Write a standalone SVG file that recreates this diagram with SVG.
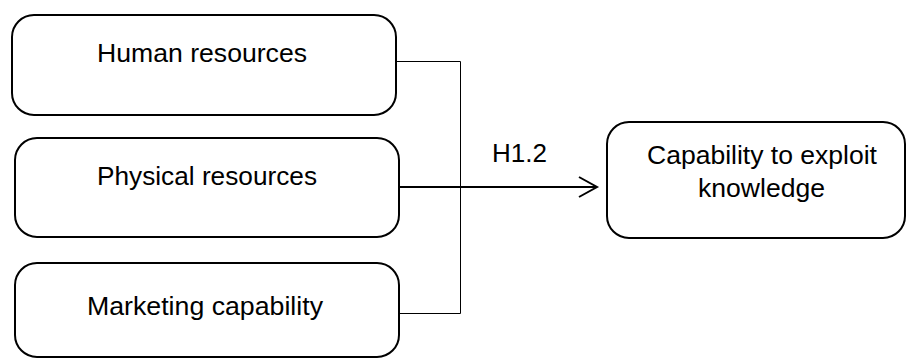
<svg xmlns="http://www.w3.org/2000/svg" width="906" height="358" viewBox="0 0 906 358">
<style>
.box{fill:#fff;stroke:#000;stroke-width:2}
.t{font-family:"Liberation Sans",Arial,sans-serif;font-size:26px;fill:#000}
.thin{fill:none;stroke:#000;stroke-width:1}
.thick{fill:none;stroke:#000;stroke-width:2}
</style>
<rect width="906" height="358" fill="#fff"/>
<g id="connectors">
<polyline class="thin" points="397,61.5 460.5,61.5 460.5,313.5 400,313.5"/>
<line class="thick" x1="400" y1="187" x2="596" y2="187"/>
<polyline class="thick" points="579,177 597,187 579,197"/>
<text class="t" x="492" y="162" textLength="55" lengthAdjust="spacingAndGlyphs">H1.2</text>
</g>
<g id="human">
<rect class="box" x="12" y="15" width="384" height="100" rx="22" ry="22"/>
<text class="t" x="97" y="62" textLength="210" lengthAdjust="spacingAndGlyphs">Human resources</text>
</g>
<g id="physical">
<rect class="box" x="15" y="138" width="384" height="99" rx="22" ry="22"/>
<text class="t" x="97" y="185" textLength="220" lengthAdjust="spacingAndGlyphs">Physical resources</text>
</g>
<g id="marketing">
<rect class="box" x="15" y="263" width="384" height="94" rx="22" ry="22"/>
<text class="t" x="87" y="315" textLength="236" lengthAdjust="spacingAndGlyphs">Marketing capability</text>
</g>
<g id="capability">
<rect class="box" x="607" y="122" width="298" height="116" rx="22" ry="22"/>
<text class="t" x="647" y="164" textLength="230" lengthAdjust="spacingAndGlyphs">Capability to exploit</text>
<text class="t" x="698" y="197" textLength="127" lengthAdjust="spacingAndGlyphs">knowledge</text>
</g>
</svg>
